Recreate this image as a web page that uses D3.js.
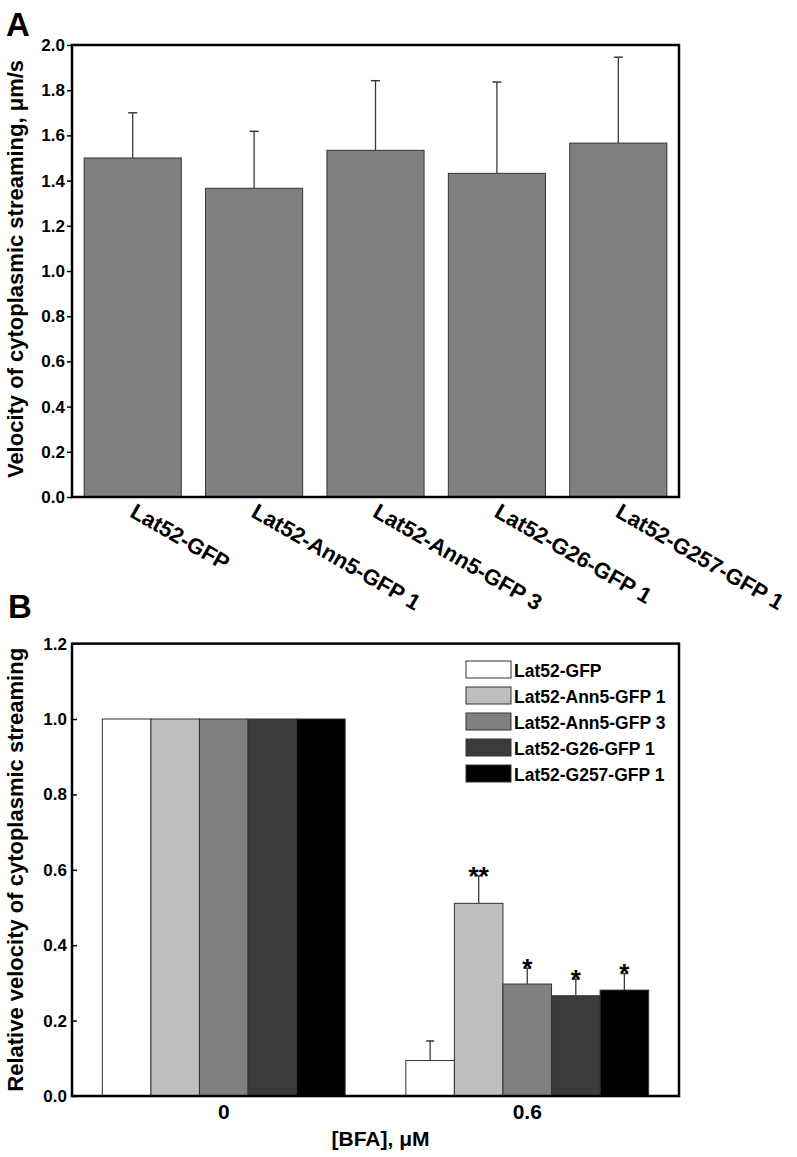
<!DOCTYPE html>
<html>
<head>
<meta charset="utf-8">
<script src="https://cdn.jsdelivr.net/npm/d3@7"></script>
<style>
  html, body { margin: 0; padding: 0; background: #fff; }
  svg text { font-family: "Liberation Sans", Arial, sans-serif; font-weight: bold; fill: #000; }
</style>
</head>
<body>
<svg id="chart" width="797" height="1157"></svg>
<script>
// ---------- data ----------
const categories = ["Lat52-GFP", "Lat52-Ann5-GFP 1", "Lat52-Ann5-GFP 3", "Lat52-G26-GFP 1", "Lat52-G257-GFP 1"];
const velocityA = [1.50, 1.366, 1.534, 1.432, 1.566];
const errorA = [0.20, 0.252, 0.308, 0.404, 0.38];
const ticksA = [0, 0.2, 0.4, 0.6, 0.8, 1.0, 1.2, 1.4, 1.6, 1.8, 2.0];

const bfaGroups = ["0", "0.6"];
const relBFA0 = [1, 1, 1, 1, 1];
const errBFA0 = [0, 0, 0, 0, 0];
const relBFA06 = [0.094, 0.511, 0.297, 0.266, 0.281];
const errBFA06 = [0.052, 0.073, 0.042, 0.044, 0.044];
const sigBFA06 = ["", "**", "*", "*", "*"];
const ticksB = [0, 0.2, 0.4, 0.6, 0.8, 1.0, 1.2];
const seriesColors = ["#ffffff", "#bebebe", "#808080", "#3b3b3b", "#000000"];

const svg = d3.select("#chart");
const fmt = d3.format(".1f");

// ---------- Panel A ----------
const A = { left: 72, right: 679, top: 45, bottom: 497 };
const xA = d3.scaleBand().domain(categories).range([A.left, A.right]).paddingInner(0.2).paddingOuter(0.1);
const yA = d3.scaleLinear().domain([0, 2.0]).range([A.bottom, A.top]);

const gA = svg.append("g");
gA.selectAll("rect.bar").data(categories).enter().append("rect")
  .attr("x", d => xA(d)).attr("width", xA.bandwidth())
  .attr("y", (d, i) => yA(velocityA[i])).attr("height", (d, i) => yA(0) - yA(velocityA[i]))
  .attr("fill", "#808080").attr("stroke", "#333").attr("stroke-width", 1);

const errGA = gA.selectAll("g.err").data(categories).enter().append("g");
errGA.append("line")
  .attr("x1", d => xA(d) + xA.bandwidth() / 2).attr("x2", d => xA(d) + xA.bandwidth() / 2)
  .attr("y1", (d, i) => yA(velocityA[i])).attr("y2", (d, i) => yA(velocityA[i] + errorA[i]))
  .attr("stroke", "#3a3a3a").attr("stroke-width", 1.3);
errGA.append("line")
  .attr("x1", d => xA(d) + xA.bandwidth() / 2 - 4.5).attr("x2", d => xA(d) + xA.bandwidth() / 2 + 4.5)
  .attr("y1", (d, i) => yA(velocityA[i] + errorA[i])).attr("y2", (d, i) => yA(velocityA[i] + errorA[i]))
  .attr("stroke", "#3a3a3a").attr("stroke-width", 1.5);

// axis A
const axA = gA.append("g").attr("transform", `translate(${A.left},0)`)
  .call(d3.axisLeft(yA).tickValues(ticksA).tickFormat(fmt).tickSize(5).tickPadding(2));
axA.select(".domain").remove();
axA.selectAll(".tick line").attr("stroke", "#000").attr("stroke-width", 1.5);
axA.selectAll(".tick text").style("font-size", "17px").attr("fill", "#000");

// frame A
gA.append("rect").attr("x", A.left).attr("y", A.top).attr("width", A.right - A.left).attr("height", A.bottom - A.top)
  .attr("fill", "none").attr("stroke", "#000").attr("stroke-width", 2.5);

// category labels (rotated)
gA.selectAll("text.cat").data(categories).enter().append("text")
  .attr("transform", d => `translate(${xA(d) + xA.bandwidth() / 2 - 4},516) rotate(30)`)
  .attr("text-anchor", "start").style("font-size", "22px").text(d => d);

// y title A
gA.append("text").attr("transform", `translate(23,${(A.top + A.bottom) / 2 - 2}) rotate(-90)`)
  .attr("text-anchor", "middle").style("font-size", "22px")
  .text("Velocity of cytoplasmic streaming, μm/s");

// panel letter
svg.append("text").attr("x", 6).attr("y", 36).style("font-size", "33px").text("A");

// ---------- Panel B ----------
const B = { left: 72, right: 679, top: 643.6, bottom: 1096 };
const x0B = d3.scaleBand().domain(bfaGroups).range([B.left, B.right]).paddingInner(0.2).paddingOuter(0.1);
const x1B = d3.scaleBand().domain(categories).range([0, x0B.bandwidth()]).padding(0);
const yB = d3.scaleLinear().domain([0, 1.2]).range([B.bottom, B.top]);

const dataB = bfaGroups.map((g, gi) => ({
  group: g,
  vals: categories.map((c, ci) => ({
    cat: c, ci,
    v: gi === 0 ? relBFA0[ci] : relBFA06[ci],
    e: gi === 0 ? errBFA0[ci] : errBFA06[ci],
    s: gi === 0 ? "" : sigBFA06[ci]
  }))
}));

const gB = svg.append("g");
const grp = gB.selectAll("g.grp").data(dataB).enter().append("g")
  .attr("transform", d => `translate(${x0B(d.group)},0)`);
grp.selectAll("rect").data(d => d.vals).enter().append("rect")
  .attr("x", d => x1B(d.cat)).attr("width", x1B.bandwidth())
  .attr("y", d => yB(d.v)).attr("height", d => yB(0) - yB(d.v))
  .attr("fill", d => seriesColors[d.ci]).attr("stroke", "#333").attr("stroke-width", 1);

const errB = grp.selectAll("g.err").data(d => d.vals.filter(v => v.e > 0)).enter().append("g");
errB.append("line")
  .attr("x1", d => x1B(d.cat) + x1B.bandwidth() / 2).attr("x2", d => x1B(d.cat) + x1B.bandwidth() / 2)
  .attr("y1", d => yB(d.v)).attr("y2", d => yB(d.v + d.e))
  .attr("stroke", "#3a3a3a").attr("stroke-width", 1.3);
errB.append("line")
  .attr("x1", d => x1B(d.cat) + x1B.bandwidth() / 2 - 4).attr("x2", d => x1B(d.cat) + x1B.bandwidth() / 2 + 4)
  .attr("y1", d => yB(d.v + d.e)).attr("y2", d => yB(d.v + d.e))
  .attr("stroke", "#3a3a3a").attr("stroke-width", 1.5);
errB.append("text")
  .attr("x", d => x1B(d.cat) + x1B.bandwidth() / 2).attr("y", d => yB(d.v + d.e) + 9)
  .attr("text-anchor", "middle").style("font-size", "26px").text(d => d.s);

// axis B
const axB = gB.append("g").attr("transform", `translate(${B.left},0)`)
  .call(d3.axisRight(yB).tickValues(ticksB).tickFormat(fmt).tickSize(5));
axB.select(".domain").remove();
axB.selectAll(".tick line").attr("stroke", "#000").attr("stroke-width", 1.5);
axB.selectAll(".tick text").attr("x", -5).attr("text-anchor", "end").style("font-size", "17px").attr("fill", "#000");

// group labels
gB.selectAll("text.grp").data(bfaGroups).enter().append("text")
  .attr("x", d => x0B(d) + x0B.bandwidth() / 2).attr("y", 1119)
  .attr("text-anchor", "middle").style("font-size", "21px").text(d => d);

// frame B
gB.append("rect").attr("x", B.left).attr("y", B.top).attr("width", B.right - B.left).attr("height", B.bottom - B.top)
  .attr("fill", "none").attr("stroke", "#000").attr("stroke-width", 2.5);

// x title B
gB.append("text").attr("x", (B.left + B.right) / 2 + 5).attr("y", 1146)
  .attr("text-anchor", "middle").style("font-size", "21px").text("[BFA], μM");

// y title B
gB.append("text").attr("transform", `translate(23,${(B.top + B.bottom) / 2}) rotate(-90)`)
  .attr("text-anchor", "middle").style("font-size", "22px")
  .text("Relative velocity of cytoplasmic streaming");

svg.append("text").attr("x", 8).attr("y", 618).style("font-size", "33px").text("B");

// legend
const legend = gB.append("g").attr("transform", "translate(466,661)");
const li = legend.selectAll("g").data(categories).enter().append("g")
  .attr("transform", (d, i) => `translate(0,${i * 26})`);
li.append("rect").attr("width", 45).attr("height", 17)
  .attr("fill", (d, i) => seriesColors[i]).attr("stroke", "#333").attr("stroke-width", 1);
li.append("text").attr("x", 48).attr("y", 15.5).style("font-size", "17.5px").text(d => d);
</script>
</body>
</html>
